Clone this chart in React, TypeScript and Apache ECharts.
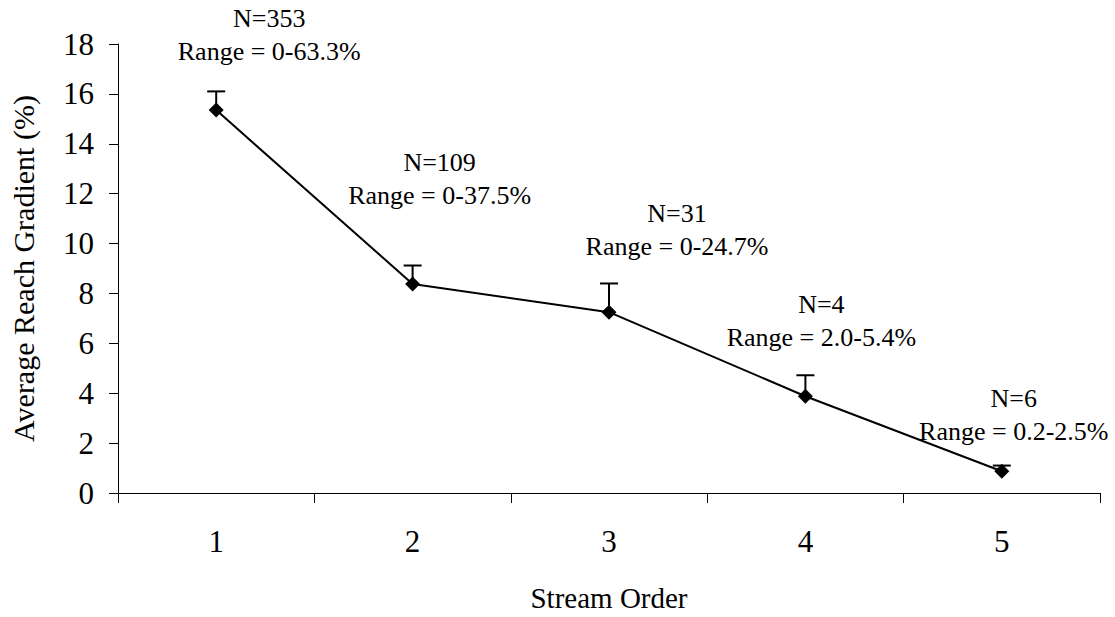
import React, { useEffect, useRef } from "react";
import * as echarts from "echarts";

const categories = ["1", "2", "3", "4", "5"];
const meanGradient = [15.35, 8.38, 7.25, 3.88, 0.87];
const upperError = [16.1, 9.12, 8.4, 4.72, 1.1];
const sampleCounts = ["N=353", "N=109", "N=31", "N=4", "N=6"];
const ranges = ["Range = 0-63.3%", "Range = 0-37.5%", "Range = 0-24.7%", "Range = 2.0-5.4%", "Range = 0.2-2.5%"];
const yTicks = { min: 0, max: 18, interval: 2 };

// layout only: label offsets (px) relative to each point
const labelOffsets = [
  [53, -30],
  [27, -59],
  [68, -37],
  [16, -30],
  [12, -11],
];

const FONT = "Liberation Serif, Times New Roman, serif";

export default function App() {
  const ref = useRef<HTMLDivElement>(null);
  useEffect(() => {
    if (!ref.current) return;
    const chart = echarts.init(ref.current, null, { renderer: "svg" });
    const lineData = meanGradient.map((v, i) => ({
      value: v,
      label: {
        show: true,
        position: "top",
        offset: labelOffsets[i],
        formatter: sampleCounts[i] + "\n" + ranges[i],
      },
    }));
    chart.setOption({
      animation: false,
      backgroundColor: "#fff",
      grid: { left: 116, right: 15, top: 44, bottom: 116 },
      xAxis: {
        type: "category",
        data: categories,
        boundaryGap: true,
        name: "Stream Order",
        nameLocation: "middle",
        nameGap: 90,
        nameTextStyle: { fontFamily: FONT, fontSize: 29, color: "#000" },
        axisLine: { lineStyle: { color: "#000", width: 1 } },
        axisTick: { show: true, length: 10, alignWithLabel: false, lineStyle: { color: "#000" } },
        axisLabel: { fontFamily: FONT, fontSize: 31, color: "#000", margin: 33 },
        splitLine: { show: false },
      },
      yAxis: {
        type: "value",
        min: yTicks.min,
        max: yTicks.max,
        interval: yTicks.interval,
        name: "Average Reach Gradient (%)",
        nameLocation: "middle",
        nameGap: 80,
        nameTextStyle: { fontFamily: FONT, fontSize: 30, color: "#000" },
        axisLine: { show: true, lineStyle: { color: "#000", width: 1 } },
        axisTick: { show: true, length: 9, lineStyle: { color: "#000" } },
        axisLabel: { fontFamily: FONT, fontSize: 31, color: "#000", margin: 24 },
        splitLine: { show: false },
      },
      series: [
        {
          type: "custom",
          z: 1,
          data: upperError.map((u, i) => [i, meanGradient[i], u]),
          renderItem: (params: any, api: any) => {
            const x = api.value(0);
            const lo = api.coord([x, api.value(1)]);
            const hi = api.coord([x, api.value(2)]);
            const half = 9;
            return {
              type: "group",
              children: [
                { type: "line", shape: { x1: lo[0], y1: lo[1], x2: hi[0], y2: hi[1] }, style: { stroke: "#000", lineWidth: 2 } },
                { type: "line", shape: { x1: hi[0] - half, y1: hi[1], x2: hi[0] + half, y2: hi[1] }, style: { stroke: "#000", lineWidth: 2 } },
              ],
            };
          },
        },
        {
          type: "line",
          z: 3,
          data: lineData,
          symbol: "diamond",
          symbolSize: 15,
          itemStyle: { color: "#000" },
          lineStyle: { color: "#000", width: 2 },
          label: {
            fontFamily: FONT,
            fontSize: 26,
            color: "#000",
            lineHeight: 33,
            align: "center",
          },
        },
      ],
    });
    return () => chart.dispose();
  }, []);
  return <div ref={ref} style={{ position: "absolute", left: 0, top: 0, width: 1115, height: 617 }} />;
}
